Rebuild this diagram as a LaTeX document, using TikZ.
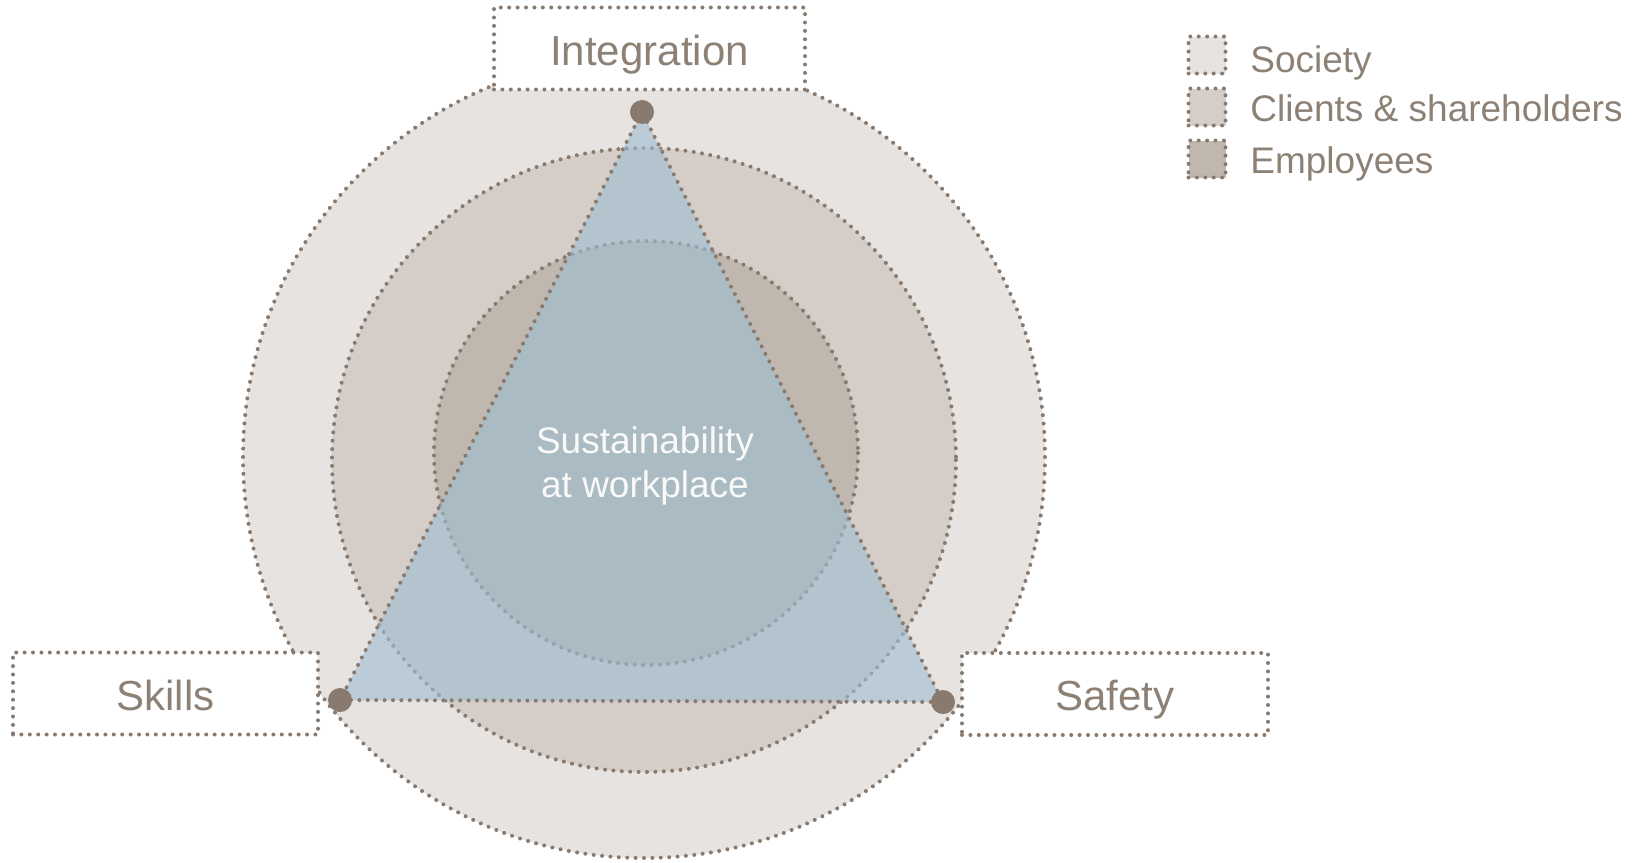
\documentclass[tikz,border=0pt]{standalone}
\usepackage{fontspec}
\setmainfont{Liberation Sans}
\definecolor{txtgray}{RGB}{141,129,118}
\definecolor{dotgray}{RGB}{136,122,110}
\definecolor{society}{RGB}{231,227,224}
\definecolor{clients}{RGB}{213,206,200}
\definecolor{employees}{RGB}{192,183,174}
\definecolor{tri}{RGB}{158,190,212}
\tikzset{
  dots/.style={draw=dotgray, line width=2pt, line cap=round, dash pattern=on 0pt off 4.2pt},
  labelbox/.style={dots, fill=white, text=txtgray, font=\fontsize{21}{25}\selectfont,
    minimum width=#1, minimum height=41pt, inner sep=0pt, text height=16.5pt, text depth=0pt},
  key/.style={dots, fill=#1, minimum size=18.5pt, inner sep=0pt},
  keytext/.style={text=txtgray, font=\fontsize{18.5}{22}\selectfont, anchor=base west, inner sep=0pt},
  vertex/.style={circle, fill=dotgray, minimum size=12pt, inner sep=0pt}
}
\begin{document}
\begin{tikzpicture}[x=0.5pt,y=-0.5pt]
\useasboundingbox (0,0) rectangle (1638,862);

\draw[dots,fill=society] (644,457) circle[radius=401];
\draw[dots,fill=clients] (644,460) circle[radius=312];
\draw[dots,fill=employees] (646,453) circle[radius=212];

\coordinate (apex) at (642,112);
\coordinate (skillpt) at (340,700);
\coordinate (safetypt) at (943,702);
\draw[dots,fill=tri,fill opacity=0.6] (apex) -- (skillpt) -- (safetypt) -- cycle;

\node[text=white!95!txtgray, align=center, font=\fontsize{18.5}{22}\selectfont] (centre) at (645,466)
  {Sustainability\\at workplace};

\node[labelbox=155.5pt] (integration) at (649.5,48.5) {Integration};
\node[labelbox=152.5pt] (skills) at (165.5,693.5) {Skills};
\node[labelbox=153pt] (safety) at (1115,694) {Safety};

\node[vertex] (dotA) at (apex) {};
\node[vertex] (dotB) at (skillpt) {};
\node[vertex] (dotC) at (safetypt) {};

\node[key=society] (keyA) at (1207,55) {};
\node[key=clients] (keyB) at (1207,107) {};
\node[key=employees] (keyC) at (1207,159) {};
\node[keytext] (txtA) at (1250,72) {Society};
\node[keytext] (txtB) at (1250,121) {Clients \& shareholders};
\node[keytext] (txtC) at (1250,173) {Employees};
\end{tikzpicture}
\end{document}
